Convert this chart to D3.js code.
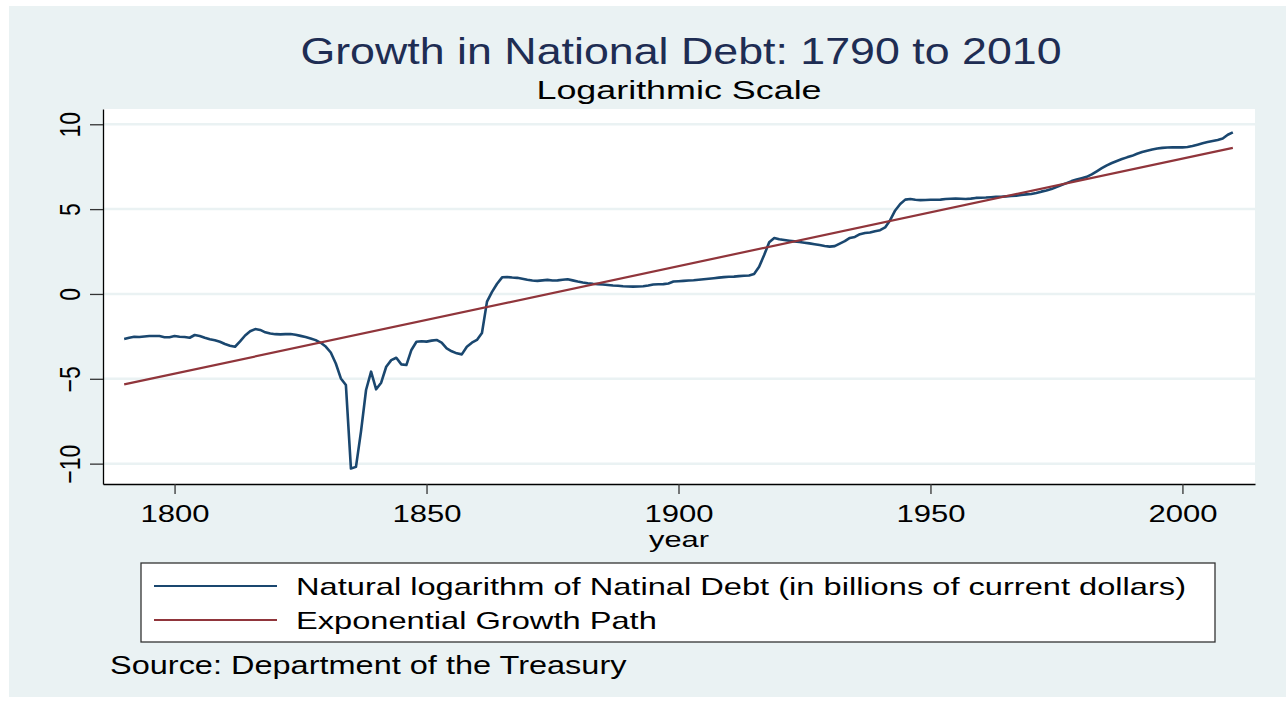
<!DOCTYPE html>
<html>
<head>
<meta charset="utf-8">
<script src="https://cdn.jsdelivr.net/npm/d3@7"></script>
<style>
  html, body { margin: 0; padding: 0; background: #ffffff; }
  svg { display: block; }
  text { font-family: "Liberation Sans", Arial, Helvetica, sans-serif; fill: #000; }
</style>
</head>
<body>
<svg id="chart" width="1286" height="701"></svg>
<script>
// Year axis (one value per year) and natural log of the national debt
const years = d3.range(1790, 2011);
const logDebt = [
  // 1790-1809
  -2.65, -2.58, -2.52, -2.54, -2.51, -2.48, -2.48, -2.48, -2.55, -2.55,
  -2.48, -2.52, -2.54, -2.58, -2.42, -2.48, -2.58, -2.67, -2.73, -2.82,
  // 1810-1829
  -2.95, -3.05, -3.11, -2.80, -2.45, -2.20, -2.07, -2.12, -2.26, -2.33,
  -2.37, -2.38, -2.37, -2.36, -2.40, -2.47, -2.54, -2.62, -2.72, -2.88,
  // 1830-1849
  -3.10, -3.45, -4.10, -4.98, -5.37, -10.29, -10.19, -8.10, -5.66, -4.58,
  -5.62, -5.23, -4.29, -3.90, -3.76, -4.15, -4.19, -3.30, -2.82, -2.79,
  // 1850-1869
  -2.81, -2.75, -2.71, -2.87, -3.21, -3.38, -3.50, -3.56, -3.11, -2.87,
  -2.71, -2.30, -0.45, 0.12, 0.60, 0.98, 1.00, 0.97, 0.95, 0.90,
  // 1870-1889
  0.84, 0.79, 0.77, 0.80, 0.83, 0.79, 0.80, 0.84, 0.87, 0.80,
  0.73, 0.67, 0.63, 0.60, 0.58, 0.56, 0.53, 0.50, 0.48, 0.45,
  // 1890-1909
  0.44, 0.43, 0.44, 0.45, 0.50, 0.56, 0.57, 0.58, 0.62, 0.73,
  0.75, 0.77, 0.79, 0.81, 0.84, 0.87, 0.90, 0.93, 0.96, 0.99,
  // 1910-1929
  1.01, 1.02, 1.05, 1.07, 1.09, 1.18, 1.60, 2.30, 3.05, 3.30,
  3.22, 3.18, 3.14, 3.10, 3.06, 3.02, 2.98, 2.93, 2.88, 2.83,
  // 1930-1949
  2.79, 2.82, 2.97, 3.11, 3.30, 3.36, 3.52, 3.59, 3.62, 3.70,
  3.76, 3.92, 4.35, 4.92, 5.30, 5.56, 5.60, 5.55, 5.53, 5.54,
  // 1950-1969
  5.55, 5.55, 5.56, 5.60, 5.61, 5.62, 5.61, 5.60, 5.62, 5.66,
  5.67, 5.68, 5.70, 5.72, 5.73, 5.75, 5.77, 5.79, 5.83, 5.87,
  // 1970-1989
  5.89, 5.95, 6.03, 6.10, 6.18, 6.30, 6.42, 6.53, 6.65, 6.74,
  6.82, 6.90, 7.05, 7.23, 7.41, 7.58, 7.72, 7.84, 7.95, 8.05,
  // 1990-2010
  8.14, 8.26, 8.36, 8.44, 8.51, 8.57, 8.61, 8.63, 8.64, 8.65,
  8.64, 8.66, 8.72, 8.80, 8.88, 8.95, 9.01, 9.07, 9.16, 9.38,
  9.52
];

// Fitted exponential growth path (straight in logs): endpoints
const trendYears = [1790, 2010];
const trendValues = [-5.33, 8.61];

const yTicks = [-10, -5, 0, 5, 10];
const xTicks = [1800, 1850, 1900, 1950, 2000];

const titleText = "Growth in National Debt: 1790 to 2010";
const subtitleText = "Logarithmic Scale";
const xAxisTitle = "year";
const legendLabels = [
  "Natural logarithm of Natinal Debt (in billions of current dollars)",
  "Exponential Growth Path"
];
const noteText = "Source: Department of the Treasury";

const colors = { debt: "#1a476f", trend: "#90353b", bg: "#eaf2f3", title: "#1e2d53" };

const svg = d3.select("#chart");

// outer graph region
svg.append("rect").attr("x", 9).attr("y", 6).attr("width", 1277).attr("height", 691)
  .attr("fill", colors.bg);

const plot = { left: 103, right: 1255, top: 109, bottom: 484 };

const x = d3.scaleLinear().domain([1785.8, 2014.4]).range([plot.left, plot.right]);
const y = d3.scaleLinear().domain([-11.2, 10.9]).range([plot.bottom, plot.top]);

// plot region
svg.append("rect")
  .attr("x", plot.left).attr("y", plot.top)
  .attr("width", plot.right - plot.left).attr("height", plot.bottom - plot.top)
  .attr("fill", "#ffffff");

// horizontal grid lines
svg.append("g").selectAll("line").data(yTicks).join("line")
  .attr("x1", plot.left).attr("x2", plot.right)
  .attr("y1", d => y(d)).attr("y2", d => y(d))
  .attr("stroke", colors.bg).attr("stroke-width", 2.5);

// lines
const debtLine = d3.line().x((d, i) => x(years[i])).y(d => y(d)).curve(d3.curveLinear);
svg.append("path").datum(logDebt)
  .attr("d", debtLine)
  .attr("fill", "none").attr("stroke", colors.debt).attr("stroke-width", 2.6)
  .attr("stroke-linejoin", "round");

const trendLine = d3.line().x((d, i) => x(trendYears[i])).y(d => y(d));
svg.append("path").datum(trendValues)
  .attr("d", trendLine)
  .attr("fill", "none").attr("stroke", colors.trend).attr("stroke-width", 2.2);

// y axis
const yAxis = svg.append("g").attr("transform", `translate(${plot.left},0)`)
  .call(d3.axisLeft(y).tickValues(yTicks).tickSize(13).tickSizeOuter(0).tickFormat(d3.format("d")));
yAxis.select(".domain").attr("stroke", "#000").attr("stroke-width", 1.3);
yAxis.selectAll(".tick line").attr("stroke", "#333").attr("stroke-width", 1.3);
yAxis.selectAll(".tick text")
  .attr("x", null).attr("dy", null)
  .attr("font-size", 23).attr("text-anchor", "middle")
  .attr("transform", "translate(-23.5,0) scale(1.3,1) rotate(-90)");

// x axis
const xAxis = svg.append("g").attr("transform", `translate(0,${plot.bottom})`)
  .call(d3.axisBottom(x).tickValues(xTicks).tickSize(10).tickSizeOuter(0).tickFormat(d3.format("d")));
xAxis.select(".domain").attr("stroke", "#000").attr("stroke-width", 1.3);
xAxis.selectAll(".tick line").attr("stroke", "#333").attr("stroke-width", 1.3);
xAxis.selectAll(".tick text")
  .attr("y", null).attr("dy", null)
  .attr("font-size", 23).attr("text-anchor", "middle")
  .attr("transform", "translate(0,38) scale(1.35,1)");

const cx = (plot.left + plot.right) / 2;

function stretchedText(txt, tx, ty, size, sx, anchor, fill) {
  return svg.append("text")
    .attr("transform", `translate(${tx},${ty}) scale(${sx},1)`)
    .attr("font-size", size).attr("text-anchor", anchor)
    .style("fill", fill || "#000")
    .text(txt);
}

stretchedText(titleText, cx + 2, 64, 37, 1.21, "middle", colors.title);
stretchedText(subtitleText, cx, 99, 26, 1.38, "middle");
stretchedText(xAxisTitle, cx, 547, 22, 1.4, "middle");

// legend
const legend = svg.append("g");
legend.append("rect").attr("x", 141).attr("y", 563).attr("width", 1074).attr("height", 79)
  .attr("fill", "#fff").attr("stroke", "#333").attr("stroke-width", 1.3);
const legendColors = [colors.debt, colors.trend];
legendLabels.forEach((lab, i) => {
  const ly = 586 + i * 34;
  legend.append("line").attr("x1", 154).attr("x2", 277).attr("y1", ly).attr("y2", ly)
    .attr("stroke", legendColors[i]).attr("stroke-width", 2.2);
  legend.append("text")
    .attr("transform", `translate(296,${ly + 9}) scale(1.36,1)`)
    .attr("font-size", 24).text(lab);
});

stretchedText(noteText, 110, 674, 25, 1.3, "start");
</script>
</body>
</html>
